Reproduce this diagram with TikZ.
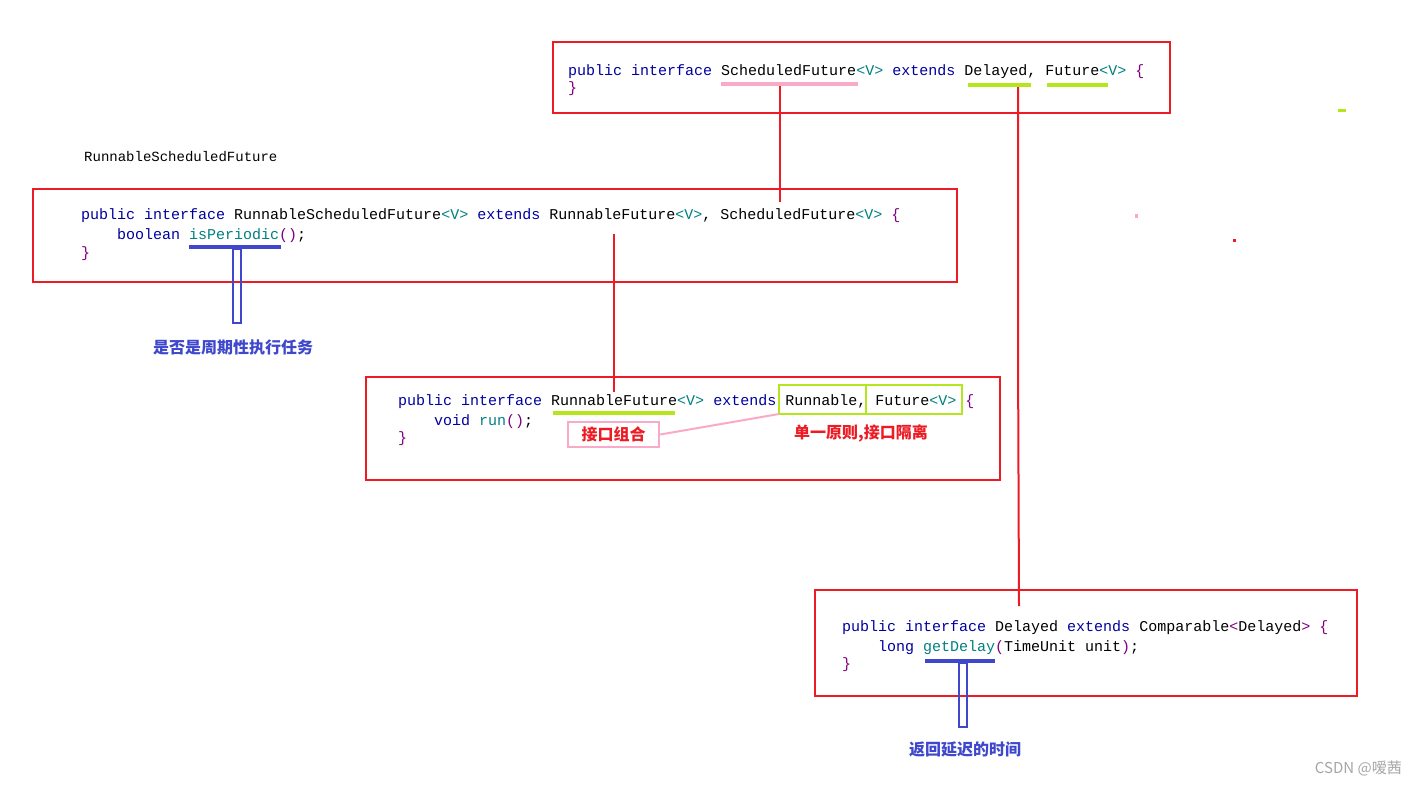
\documentclass[tikz,border=0pt]{standalone}
\usepackage{fontspec}
\setmonofont{Liberation Mono}
\newfontfamily\cjk{Noto Sans CJK SC}
\definecolor{kw}{RGB}{0,0,160}
\definecolor{tp}{RGB}{0,128,128}
\definecolor{pu}{RGB}{128,0,128}
\definecolor{rbox}{RGB}{237,28,36}
\definecolor{pk}{RGB}{248,170,200}
\definecolor{gr}{RGB}{180,230,30}
\definecolor{bl}{RGB}{63,72,204}
\newcommand{\cK}[1]{\textcolor{kw}{#1}}
\newcommand{\cT}[1]{\textcolor{tp}{#1}}
\newcommand{\cP}[1]{\textcolor{pu}{#1}}
\begin{document}
\begin{tikzpicture}[x=1pt,y=-1pt,
  code/.style={anchor=base west,inner sep=0pt,font=\fontsize{15}{18}\ttfamily},
  box/.style={draw=rbox,line width=2.5pt},
  conn/.style={draw=rbox,line width=2pt},
  cjkb/.style={inner sep=0pt,font=\fontsize{16}{18}\cjk\bfseries},
]
\useasboundingbox[fill=white] (0,0) rectangle (1417,785);
% boxes
\draw[box] (553,42) rectangle (1170,113);
\draw[box] (33,189) rectangle (957,282);
\draw[box] (366,377) rectangle (1000,480);
\draw[box] (815,590) rectangle (1357,696);
% top box code
\node[code] (t1) at (568,75) {\cK{public interface} ScheduledFuture\cT{<V>} \cK{extends} Delayed, Future\cT{<V>} \cP{\{}};
\node[code] (t2) at (568,92) {\cP{\}}};
\fill[pk] (721,82) rectangle (858,86);
\fill[gr] (968,83) rectangle (1031,87);
\fill[gr] (1047,83) rectangle (1108,87);
% label
\node[code,font=\fontsize{14}{16}\ttfamily] (lab) at (84,161) {RunnableScheduledFuture};
% box 2 code
\node[code] (b1) at (81,219) {\cK{public interface} RunnableScheduledFuture\cT{<V>} \cK{extends} RunnableFuture\cT{<V>}, ScheduledFuture\cT{<V>} \cP{\{}};
\node[code] (b2) at (117,239) {\cK{boolean} \cT{isPeriodic}\cP{()};};
\node[code] (b3) at (81,257) {\cP{\}}};
\fill[bl] (189,245) rectangle (281,249);
\draw[bl,line width=2pt] (233,249) rectangle (241,323);
\node[cjkb,text=bl] (l1) at (233,347) {是否是周期性执行任务};
% box 3 code
\node[code] (c1) at (398,405) {\cK{public interface} RunnableFuture\cT{<V>} \cK{extends} Runnable, Future\cT{<V>} \cP{\{}};
\node[code] (c2) at (434,425) {\cK{void} \cT{run}\cP{()};};
\node[code] (c3) at (398,442) {\cP{\}}};
\fill[gr] (553,411) rectangle (675,415);
\draw[gr,line width=2.5pt] (779,385) rectangle (866,414);
\draw[gr,line width=2.5pt] (866,385) rectangle (962,414);
\node[draw=pk,line width=2.5pt,minimum width=91pt,minimum height=25pt,inner sep=0pt,font=\fontsize{16}{18}\cjk\bfseries,text=rbox] (zh) at (613.5,434.5) {接口组合};
\coordinate (rn) at (779,414);
\draw[pk,line width=2pt] (zh.east) -- (rn);
\node[cjkb,text=rbox] (l2) at (861,433) {单一原则,接口隔离};
% box 4 code
\node[code] (d1) at (842,631) {\cK{public interface} Delayed \cK{extends} Comparable\cP{<}Delayed\cP{>} \cP{\{}};
\node[code] (d2) at (878,651) {\cK{long} \cT{getDelay}\cP{(}TimeUnit unit\cP{)};};
\node[code] (d3) at (842,668) {\cP{\}}};
\fill[bl] (925,659) rectangle (995,663);
\draw[bl,line width=2pt] (959,663) rectangle (967,727);
\node[cjkb,text=bl] (l3) at (965,749) {返回延迟的时间};
% connectors
\coordinate (s1) at (780,86); \coordinate (e1) at (780,202);
\draw[conn] (s1) -- (e1);
\coordinate (s2) at (614,234); \coordinate (e2) at (614,392);
\draw[conn] (s2) -- (e2);
\coordinate (s3) at (1018,87); \coordinate (m3) at (1018,347); \coordinate (e3) at (1019,606);
\draw[conn] (s3) -- (m3) -- (e3);
% stray marks
\fill[gr] (1338,109) rectangle (1346,112);
\fill[pk] (1135,214) rectangle (1138,218);
\fill[rbox] (1233,239) rectangle (1236,242);
\node[anchor=base east,inner sep=0pt,text=gray!70,font=\fontsize{15}{18}\cjk] (wm) at (1402,773) {CSDN @嗳茜};
\end{tikzpicture}
\end{document}
